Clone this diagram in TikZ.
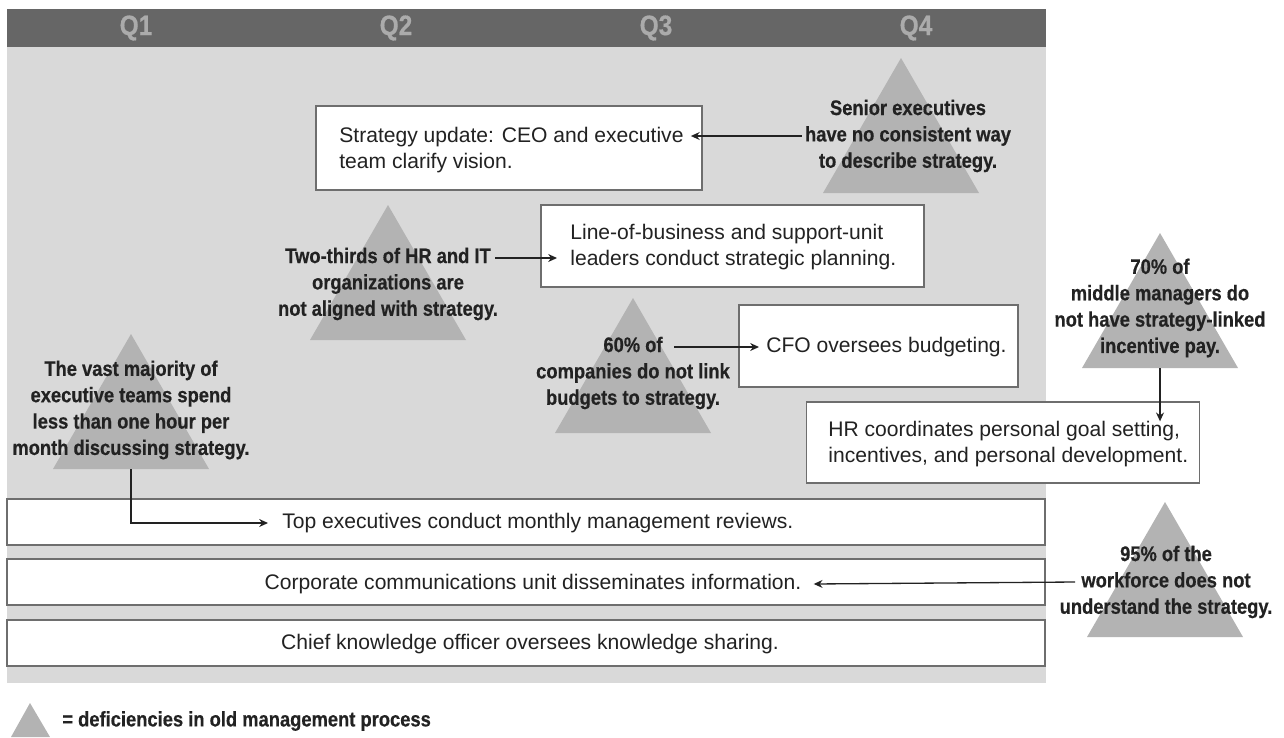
\documentclass[tikz,border=0pt]{standalone}
\usepackage{fontspec}
\setmainfont{Liberation Sans}
\newfontfamily\condsans[FakeStretch=0.87,FakeBold=0.5]{Liberation Sans}
\usetikzlibrary{arrows.meta,calc}

\definecolor{panelgray}{HTML}{D9D9D9}
\definecolor{headgray}{HTML}{666666}
\definecolor{qgray}{HTML}{ABABAB}
\definecolor{trigray}{HTML}{B3B3B3}
\definecolor{boxline}{HTML}{6E6E6E}
\definecolor{ink}{HTML}{222222}

\begin{document}
\begin{tikzpicture}[x=0.02cm,y=-0.02cm,
  box/.style={draw=boxline,line width=1pt,fill=white,inner sep=0pt},
  txt/.style={font=\fontsize{12}{14.8}\selectfont,text=ink,inner sep=0pt,align=left},
  note/.style={font=\condsans\bfseries\fontsize{12}{15}\selectfont,text=ink,inner sep=0pt,align=center},
  tri/.style={fill=trigray},
  arr/.style={draw=ink,line width=0.75pt,-{Stealth[length=5pt,width=4.5pt]}},
  quarter/.style={font=\condsans\bfseries\fontsize{16}{18}\selectfont,text=qgray}]
\useasboundingbox (0,0) rectangle (1284,737);

% panel and quarter header
\fill[panelgray] (7,9) rectangle (1046,683);
\fill[headgray] (7,9) rectangle (1046,47);
\node[quarter] (q1) at (136,28) {Q1};
\node[quarter] (q2) at (396,28) {Q2};
\node[quarter] (q3) at (656,28) {Q3};
\node[quarter] (q4) at (916,28) {Q4};

% deficiency triangles
\fill[tri] (131,334) -- ++(78,135) -- ++(-156,0) -- cycle;
\fill[tri] (388,205) -- ++(78,135) -- ++(-156,0) -- cycle;
\fill[tri] (633,298) -- ++(78,135) -- ++(-156,0) -- cycle;
\fill[tri] (901,58) -- ++(78,135) -- ++(-156,0) -- cycle;
\fill[tri] (1160,233) -- ++(78,135) -- ++(-156,0) -- cycle;
\fill[tri] (1165,502) -- ++(78,135) -- ++(-156,0) -- cycle;
\coordinate (t1base) at (131,469);
\coordinate (t7base) at (1160,368);

% process boxes
\node[box,minimum width=7.72cm,minimum height=1.68cm] (strat) at (509,148) {};
\node[box,minimum width=7.66cm,minimum height=1.64cm] (lob) at (732.5,246) {};
\node[box,minimum width=5.58cm,minimum height=1.64cm] (cfo) at (878.5,346) {};
\node[box,minimum width=7.86cm,minimum height=1.62cm] (hr) at (1003,442.5) {};
\node[box,minimum width=20.76cm,minimum height=0.92cm] (reviews) at (526,522) {};
\node[box,minimum width=20.76cm,minimum height=0.92cm] (comms) at (526,582) {};
\node[box,minimum width=20.76cm,minimum height=0.92cm] (knowledge) at (526,643) {};

\node[txt,anchor=west] (strattxt) at (339,150) {Strategy update: CEO and executive\\team clarify vision.};
\node[txt,anchor=west] (lobtxt) at (570,247) {Line-of-business and support-unit\\leaders conduct strategic planning.};
\node[txt,anchor=west] (cfotxt) at (766,347) {CFO oversees budgeting.};
\node[txt,anchor=west] (hrtxt) at (828,444.5) {HR coordinates personal goal setting,\\incentives, and personal development.};
\node[txt,anchor=west] (reviewstxt) at (282,523) {Top executives conduct monthly management reviews.};
\node[txt] (commstxt) at (533,584) {Corporate communications unit disseminates information.};
\node[txt] (knowtxt) at (530,644) {Chief knowledge officer oversees knowledge sharing.};

% deficiencies
\node[note] (n1) at (131,410) {The vast majority of\\executive teams spend\\less than one hour per\\month discussing strategy.};
\node[note] (n2) at (388,284) {Two-thirds of HR and IT\\organizations are\\not aligned with strategy.};
\node[note] (n3) at (633,373) {60\% of\\companies do not link\\budgets to strategy.};
\node[note] (n4) at (908,136) {Senior executives\\have no consistent way\\to describe strategy.};
\node[note] (n7) at (1160,308) {70\% of\\middle managers do\\not have strategy-linked\\incentive pay.};
\node[note] (n9) at (1166,582) {95\% of the\\workforce does not\\understand the strategy.};

% arrows
\draw[arr] ($(n4.west)+(-3,0)$) -- ($(strattxt.east |- n4.west)+(7,0)$);
\draw[arr] ($(n2.east)+(-3,-26)$) -- ($(lobtxt.west |- n2.east)+(-13,-26)$);
\draw[arr] ($(n3)+(41,-26)$) -- ($(cfotxt.west |- n3)+(-7,-26)$);
\draw[arr] (t7base) -- (t7base |- hrtxt.north);
\draw[arr] (t1base) |- ($(reviewstxt.west)+(-14,0)$);
\draw[arr] ($(n9)+(-91,0)$) -- ($(commstxt.east)+(12,0)$);

% legend
\fill[tri] (30,703) -- (50,737) -- (11,737) -- cycle;
\node[note,anchor=west] (legend) at (62,721) {= deficiencies in old management process};

\end{tikzpicture}
\end{document}
